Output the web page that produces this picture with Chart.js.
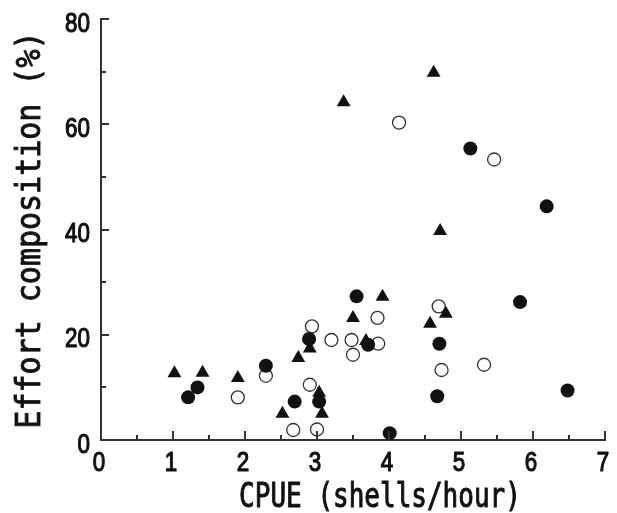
<!DOCTYPE html>
<html>
<head>
<meta charset="utf-8">
<script src="https://cdn.jsdelivr.net/npm/chart.js@4"></script>
<style>
  html, body { margin: 0; padding: 0; background: #fff; }
  #wrap { width: 617px; height: 513px; }
</style>
</head>
<body>
<div id="wrap"><canvas id="c" width="617" height="513"></canvas></div>
<script>
// ---- data ----
const filledCpue   = [1.21, 1.34, 2.29, 2.69, 2.89, 3.03, 3.55, 3.71, 4.01, 4.67, 4.70, 5.13, 5.82, 6.19, 6.48];
const filledEffort = [8.1, 10.0, 14.1, 7.3, 19.2, 7.3, 27.3, 18.1, 1.3, 8.3, 18.3, 55.4, 26.2, 44.4, 9.4];

const openCpue   = [1.90, 2.29, 2.67, 2.90, 2.93, 3.00, 3.20, 3.48, 3.50, 3.84, 3.85, 4.14, 4.69, 4.73, 5.32, 5.46];
const openEffort = [8.1, 12.2, 1.9, 10.5, 21.6, 2.0, 19.0, 19.0, 16.2, 23.2, 18.3, 60.3, 25.4, 13.3, 14.3, 53.3];

const triCpue   = [1.02, 1.41, 1.90, 2.52, 2.74, 2.90, 3.03, 3.07, 3.37, 3.50, 3.68, 3.91, 4.57, 4.62, 4.71, 4.79];
const triEffort = [12.7, 12.8, 11.8, 5.0, 15.6, 17.4, 9.0, 5.0, 64.2, 23.2, 18.8, 27.2, 22.1, 69.8, 39.7, 24.0];

const xTickValues = [0, 1, 2, 3, 4, 5, 6, 7];
const yTickValues = [0, 20, 40, 60, 80];
const xTitle = 'CPUE (shells/hour)';
const yTitle = 'Effort composition (%)';

function pts(xs, ys) { return xs.map((x, i) => ({ x: x, y: ys[i] })); }

const labelFont = "28px 'Liberation Sans', Arial, sans-serif";
const monoFont = "'DejaVu Sans Mono', 'Liberation Mono', monospace";

function heavyText(ctx, text, w) {
  ctx.fillText(text, 0, 0);
  ctx.lineWidth = w;
  ctx.strokeText(text, 0, 0);
}

const decorPlugin = {
  id: 'decor',
  afterDraw(chart) {
    const ctx = chart.ctx;
    const xs = chart.scales.x, ys = chart.scales.y;
    const left = chart.chartArea.left, bottom = chart.chartArea.bottom;
    ctx.save();
    ctx.strokeStyle = '#333';
    ctx.lineWidth = 2;
    // inward ticks on y axis
    for (let v = 0; v <= 80; v += 10) {
      const py = Math.round(ys.getPixelForValue(v));
      const len = (v % 20 === 0) ? 8 : 5;
      ctx.beginPath(); ctx.moveTo(left, py); ctx.lineTo(left + len, py); ctx.stroke();
    }
    // inward ticks on x axis
    for (let v = 0; v <= 7.001; v += 0.5) {
      const px = Math.round(xs.getPixelForValue(v));
      const len = (Math.abs(v - Math.round(v)) < 1e-6) ? 9 : 5;
      ctx.beginPath(); ctx.moveTo(px, bottom); ctx.lineTo(px, bottom - len); ctx.stroke();
    }
    // condensed tick labels, positioned through the library scales
    ctx.fillStyle = '#111';
    ctx.strokeStyle = '#111';
    ctx.font = labelFont;
    ctx.textBaseline = 'middle';
    ys.ticks.forEach(t => {
      const py = ys.getPixelForValue(t.value);
      ctx.save();
      ctx.translate(90, py + 5);
      ctx.scale(0.8, 1);
      ctx.textAlign = 'right';
      heavyText(ctx, String(t.value), 1.2);
      ctx.restore();
    });
    xs.ticks.forEach(t => {
      const px = xs.getPixelForValue(t.value);
      ctx.save();
      ctx.translate(px - 2, 463);
      ctx.scale(0.8, 1);
      ctx.textAlign = 'center';
      heavyText(ctx, String(t.value), 1.2);
      ctx.restore();
    });
    // axis titles
    ctx.textBaseline = 'alphabetic';
    ctx.textAlign = 'center';
    ctx.save();
    ctx.translate(380, 507);
    ctx.scale(1, 1.3);
    ctx.font = "26px " + monoFont;
    heavyText(ctx, xTitle, 0.8);
    ctx.restore();
    ctx.save();
    ctx.translate(40, 230);
    ctx.rotate(-Math.PI / 2);
    ctx.scale(1, 1.1);
    ctx.font = "30px " + monoFont;
    heavyText(ctx, yTitle, 0.8);
    ctx.restore();
    ctx.restore();
  }
};

new Chart(document.getElementById('c'), {
  type: 'scatter',
  data: {
    datasets: [
      {
        label: 'Triangles',
        data: pts(triCpue, triEffort),
        pointStyle: 'triangle',
        pointRadius: 8,
        backgroundColor: '#111',
        borderColor: '#111',
        borderWidth: 0
      },
      {
        label: 'Filled circles',
        data: pts(filledCpue, filledEffort),
        pointStyle: 'circle',
        pointRadius: 7,
        backgroundColor: '#111',
        borderColor: '#111',
        borderWidth: 0
      },
      {
        label: 'Open circles',
        data: pts(openCpue, openEffort),
        pointStyle: 'circle',
        pointRadius: 6.5,
        backgroundColor: '#fff',
        borderColor: '#333',
        borderWidth: 1.3
      }
    ]
  },
  options: {
    responsive: false,
    animation: false,
    devicePixelRatio: 1,
    layout: { padding: { left: 0, right: 12, top: 19, bottom: 0 } },
    plugins: {
      legend: { display: false },
      tooltip: { enabled: false }
    },
    scales: {
      x: {
        type: 'linear',
        min: 0, max: 7,
        afterBuildTicks(scale) { scale.ticks = xTickValues.map(v => ({ value: v })); },
        afterFit(scale) { scale.height = 73; },
        grid: { display: false, drawTicks: false },
        border: { display: true, color: '#333', width: 2 },
        ticks: { display: false }
      },
      y: {
        type: 'linear',
        min: 0, max: 80,
        afterBuildTicks(scale) { scale.ticks = yTickValues.map(v => ({ value: v })); },
        afterFit(scale) { scale.width = 101; },
        grid: { display: false, drawTicks: false },
        border: { display: true, color: '#333', width: 2 },
        ticks: { display: false }
      }
    }
  },
  plugins: [decorPlugin]
});
</script>
</body>
</html>
